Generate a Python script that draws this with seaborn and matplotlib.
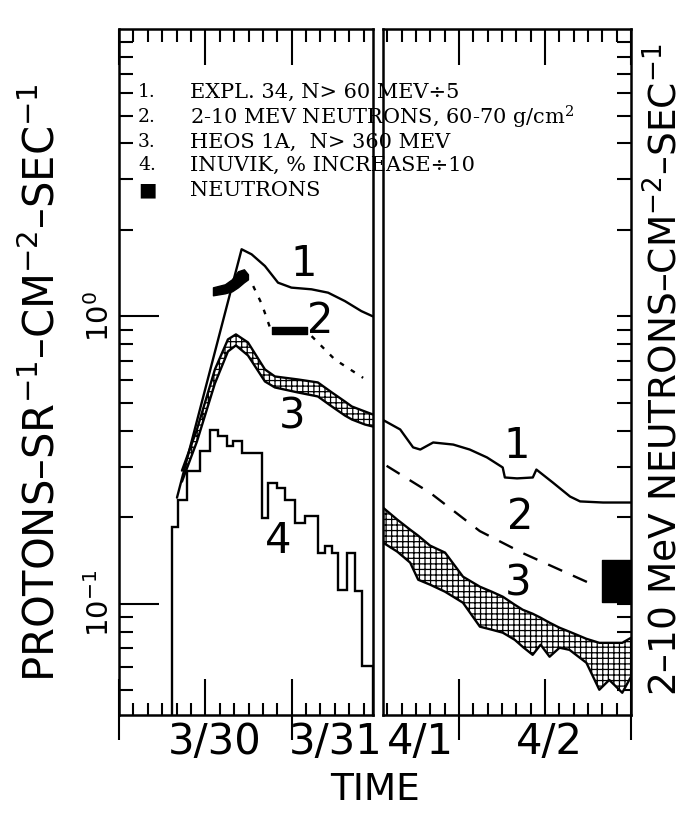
import matplotlib
matplotlib.use('Agg')
import numpy as np
import matplotlib.pyplot as plt
import matplotlib.ticker as mtick
import seaborn as sns

# time in hours after 3/30 00:00 UT
left_span = (0.0, 35.3)
right_span = (61.4, 96.0)
y_span = (0.041, 10.0)

# 1. Explorer 34, N > 60 MeV (/5)
expl_hr_a = [8.06, 17.04, 18.43, 20.28, 22.10, 23.96, 26.76, 29.06, 31.40, 33.68, 35.28]
expl_val_a = [0.234, 1.712, 1.644, 1.497, 1.310, 1.259, 1.242, 1.209, 1.130, 1.043, 1.000]
expl_hr_b = [61.4, 63.8, 65.6, 66.6, 68.4, 71.2, 73.5, 75.9, 78.1, 78.4, 80.1, 82.3, 82.8,
             85.1, 87.5, 88.9, 92.1, 96.0]
expl_val_b = [0.436, 0.404, 0.350, 0.344, 0.364, 0.358, 0.344, 0.323, 0.298, 0.275, 0.273,
              0.275, 0.293, 0.264, 0.236, 0.227, 0.225, 0.225]

# 2. 2-10 MeV neutrons, 60-70 g/cm2 (dashed)
neut_hr_a = [18.65, 19.86, 20.97, 21.2, 26.1, 26.76, 29.99, 33.93]
neut_val_a = [1.275, 1.101, 0.916, 0.89, 0.89, 0.854, 0.708, 0.611]
neut_hr_b = [61.9, 68.0, 74.9, 80.9, 90.2]
neut_val_b = [0.302, 0.243, 0.179, 0.150, 0.118]

# neutron measurements (black blocks)
blob_hr = [13.06, 14.72, 15.69, 16.53, 17.36, 17.92]
blob_lo = [1.184, 1.203, 1.222, 1.262, 1.314, 1.345]
blob_hi = [1.262, 1.293, 1.346, 1.435, 1.458, 1.401]
bar_hr = [21.2, 26.1]
bar_lo = [0.866, 0.866]
bar_hi = [0.916, 0.916]
box_hr = [91.9, 96.0]
box_lo = [0.1016, 0.1016]
box_hi = [0.1423, 0.1423]

# 3. HEOS 1A, N > 360 MeV (band)
heos_hr_a = [8.75, 10.83, 13.33, 15.14, 16.25, 17.92, 20.28, 21.67, 24.86, 27.64, 29.58,
             31.39, 32.36, 34.17, 35.28]
heos_hi_a = [0.2906, 0.4039, 0.6537, 0.8315, 0.8655, 0.8116, 0.6537, 0.6178, 0.6032, 0.5889,
             0.5435, 0.5056, 0.4857, 0.4667, 0.4556]
heos_lo_a = [0.2661, 0.3667, 0.5843, 0.7551, 0.7924, 0.7313, 0.5936, 0.5657, 0.5435, 0.5263,
             0.4857, 0.4519, 0.4377, 0.4204, 0.4137]
heos_hr_b = [61.4, 63.39, 65.19, 66.31, 67.97, 70.06, 72.56, 74.92, 76.58, 78.11, 79.78,
             80.89, 82.28, 83.39, 84.64, 86.03, 87.42, 89.78, 91.58, 92.97, 94.78, 96.0]
heos_hi_b = [0.2160, 0.1962, 0.1810, 0.1725, 0.1593, 0.1506, 0.1242, 0.1146, 0.1101, 0.1058,
             0.0992, 0.0953, 0.0923, 0.0894, 0.0859, 0.0825, 0.0799, 0.0755, 0.0731, 0.0731,
             0.0731, 0.0761]
heos_lo_b = [0.1632, 0.1518, 0.1390, 0.1212, 0.1165, 0.1101, 0.1008, 0.0832, 0.0812, 0.0793,
             0.0749, 0.0708, 0.0664, 0.0720, 0.0654, 0.0703, 0.0691, 0.0623, 0.0502, 0.0543,
             0.0490, 0.0557]

# 4. Inuvik, % increase (/10), step curve
inuvik_edges = [7.40, 8.24, 9.40, 11.25, 12.64, 13.79, 14.96, 15.88, 17.04, 19.82, 20.74,
                21.90, 23.06, 24.44, 25.83, 27.68, 28.61, 29.54, 30.46, 31.63, 32.78, 33.71, 35.28]
inuvik_lvl = [0.1850, 0.2304, 0.2891, 0.3394, 0.4039, 0.3827, 0.3532, 0.3677, 0.3350, 0.1989,
              0.2634, 0.2530, 0.2304, 0.1910, 0.2014, 0.1502, 0.1593, 0.1502, 0.1119, 0.1502,
              0.1104, 0.0605]

day_labels = ['3/30', '3/31', '4/1', '4/2']
day_label_hr = [13.3, 30.1, 66.6, 84.6]
legend_nums = ['1.', '2.', '3.', '4.']
legend_text = ['EXPL. 34, N> 60 MEV÷5',
               '2-10 MEV NEUTRONS, 60-70 g/cm$^{2}$',
               'HEOS 1A,  N> 360 MEV',
               'INUVIK, % INCREASE÷10',
               'NEUTRONS']

sns.set_theme(style='ticks')
plt.rcParams['font.family'] = ['DejaVu Sans']
plt.rcParams['mathtext.fontset'] = 'dejavusans'
plt.rcParams['hatch.linewidth'] = 0.9
plt.rcParams['hatch.color'] = 'black'
plt.rcParams['text.color'] = 'black'
plt.rcParams['xtick.color'] = 'black'
plt.rcParams['ytick.color'] = 'black'

fig = plt.figure(figsize=(6.92, 8.17), dpi=100)
axl = fig.add_axes([119 / 692, 1 - 715 / 817, 254 / 692, 686 / 817])
axr = fig.add_axes([383 / 692, 1 - 715 / 817, 248 / 692, 686 / 817])

for ax in (axl, axr):
    ax.set_yscale('log')
    for sp in ax.spines.values():
        sp.set_visible(True)
        sp.set_linewidth(1.8)
        sp.set_color('black')


def band(ax, t, lo, hi):
    ax.fill_between(t, lo, hi, facecolor='white', edgecolor='black', hatch='+++', linewidth=0)
    sns.lineplot(x=t, y=hi, ax=ax, color='black', lw=1.7, estimator=None, sort=False)
    sns.lineplot(x=t, y=lo, ax=ax, color='black', lw=1.7, estimator=None, sort=False)


# left panel
band(axl, heos_hr_a, heos_lo_a, heos_hi_a)
sns.lineplot(x=expl_hr_a, y=expl_val_a, ax=axl, color='black', lw=1.7, estimator=None, sort=False)
sns.lineplot(x=neut_hr_a, y=neut_val_a, ax=axl, color='black', lw=1.7, estimator=None, sort=False,
             linestyle=(0, (2, 3.5)))
axl.fill_between(blob_hr, blob_lo, blob_hi, color='black', lw=1)
axl.fill_between(bar_hr, bar_lo, bar_hi, color='black', lw=1)
axl.stairs(inuvik_lvl, inuvik_edges, baseline=y_span[0], color='black', lw=1.7)

# right panel
band(axr, heos_hr_b, heos_lo_b, heos_hi_b)
sns.lineplot(x=expl_hr_b, y=expl_val_b, ax=axr, color='black', lw=1.7, estimator=None, sort=False)
sns.lineplot(x=neut_hr_b, y=neut_val_b, ax=axr, color='black', lw=1.7, estimator=None, sort=False,
             linestyle=(0, (6.5, 5)))
axr.fill_between(box_hr, box_lo, box_hi, color='black', lw=1)

axl.set_xlim(*left_span)
axr.set_xlim(*right_span)
for ax in (axl, axr):
    ax.set_ylim(*y_span)
    ax.set_xlabel('')
    ax.set_ylabel('')
    ax.xaxis.set_major_locator(mtick.MultipleLocator(12))
    ax.xaxis.set_minor_locator(mtick.MultipleLocator(2))
    ax.tick_params(axis='x', which='major', direction='in', length=26, width=1.5,
                   top=True, bottom=True, labelbottom=False, labeltop=False)
    ax.tick_params(axis='x', which='minor', direction='in', length=9, width=1.5,
                   top=True, bottom=True)
    ax.yaxis.set_minor_locator(mtick.LogLocator(base=10, subs=np.arange(2, 10)))
    ax.yaxis.set_minor_formatter(mtick.NullFormatter())
    # midnight ticks cross the axis
    sec = ax.secondary_xaxis('bottom')
    lo, hi = ax.get_xlim()
    sec.set_xticks([d for d in range(0, 97, 24) if lo <= d <= hi])
    sec.tick_params(direction='out', length=18, width=1.5, labelbottom=False)
    sec.spines['bottom'].set_visible(False)

axl.set_yticks([0.1, 1.0], labels=[r'$10^{-1}$', r'$10^{0}$'])
axl.tick_params(axis='y', which='major', direction='in', length=29, width=1.5,
                left=True, right=False, labelsize=21, labelrotation=90, pad=3)
axl.tick_params(axis='y', which='minor', direction='in', length=10, width=1.5,
                left=True, right=False)
for lab in axl.get_yticklabels():
    lab.set_va('center')
axr.set_yticks([0.1, 1.0])
axr.tick_params(axis='y', which='both', direction='in', length=10, width=1.5,
                left=False, right=True, labelleft=False, labelright=False)

# curve numbers
axl.text(25.6, 1.517, '1', fontsize=30, ha='center', va='center')
axl.text(27.9, 0.963, '2', fontsize=30, ha='center', va='center')
axl.text(24.0, 0.449, '3', fontsize=30, ha='center', va='center')
axl.text(22.1, 0.165, '4', fontsize=30, ha='center', va='center')
axr.text(80.0, 0.353, '1', fontsize=30, ha='center', va='center')
axr.text(80.5, 0.201, '2', fontsize=30, ha='center', va='center')
axr.text(80.2, 0.118, '3', fontsize=30, ha='center', va='center')

# date labels
for lab, hr in zip(day_labels, day_label_hr):
    ax = axl if hr < left_span[1] else axr
    ax.text(hr, -0.04, lab, transform=ax.get_xaxis_transform(), fontsize=30,
            ha='center', va='center')

# legend block
rows_y = [0.8874, 0.8568, 0.8262, 0.7980, 0.7674]
for num, y in zip(legend_nums, rows_y):
    fig.text(0.1994, y, num, family='DejaVu Serif', fontsize=13.5, va='center')
fig.text(0.1994, rows_y[4], '■', family='DejaVu Sans', fontsize=14, va='center')
for txt, y in zip(legend_text, rows_y):
    fig.text(0.2746, y, txt, family='DejaVu Serif', math_fontfamily='dejavuserif',
             fontsize=15, va='center')

fig.text(0.542, 0.033, 'TIME', fontsize=27, ha='center', va='center')
fig.text(0.061, 0.532, r'PROTONS–SR$^{-1}$–CM$^{-2}$–SEC$^{-1}$', fontsize=30,
         rotation=90, ha='center', va='center')
fig.text(0.962, 0.547, r'2–10 MeV NEUTRONS–CM$^{-2}$–SEC$^{-1}$', fontsize=27,
         rotation=90, ha='center', va='center')

fig.savefig('out.png', dpi=100, facecolor='white')
